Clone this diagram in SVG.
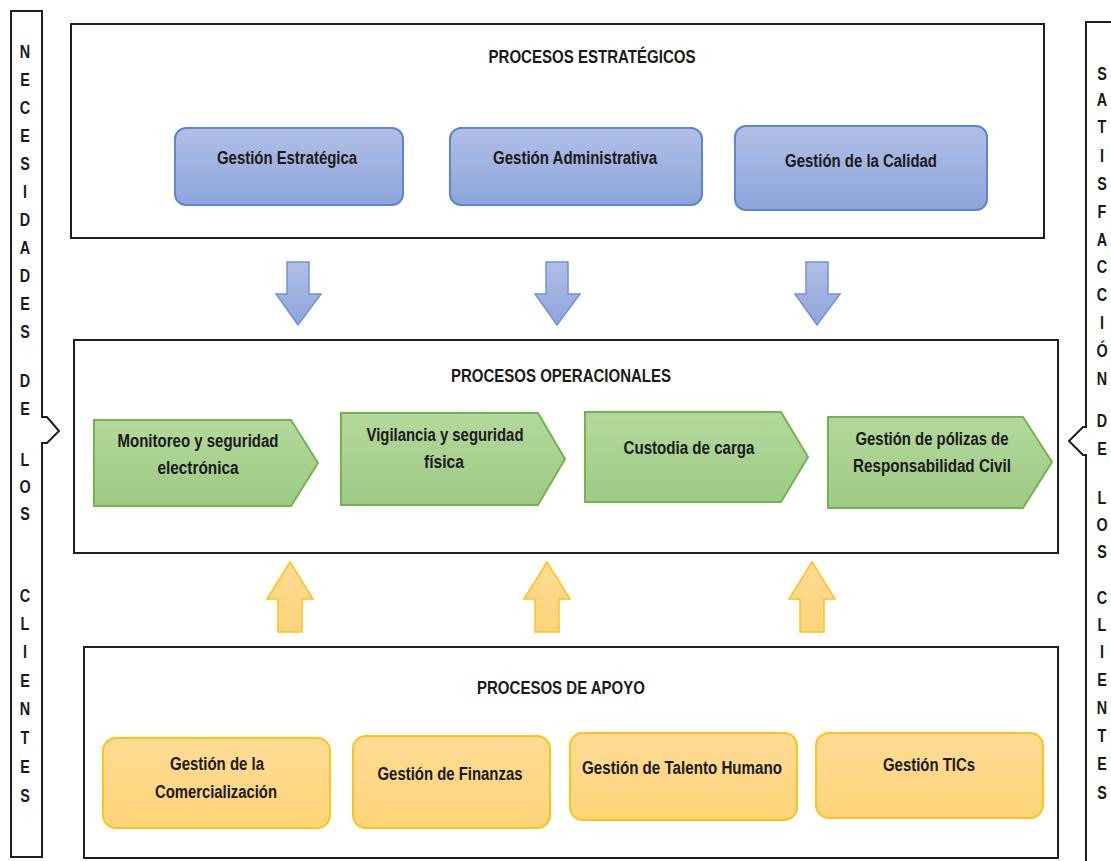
<svg xmlns="http://www.w3.org/2000/svg" width="1111" height="861" viewBox="0 0 1111 861">
  <defs>
    <linearGradient id="gBlue" x1="0" y1="0" x2="0" y2="1">
      <stop offset="0" stop-color="#b1bfe6"/>
      <stop offset="1" stop-color="#8da5db"/>
    </linearGradient>
    <linearGradient id="gGreen" x1="0" y1="0" x2="0" y2="1">
      <stop offset="0" stop-color="#b4d89c"/>
      <stop offset="1" stop-color="#9dca84"/>
    </linearGradient>
    <linearGradient id="gYellow" x1="0" y1="0" x2="0" y2="1">
      <stop offset="0" stop-color="#ffdb95"/>
      <stop offset="1" stop-color="#ffd479"/>
    </linearGradient>
  </defs>
  <style>
    text { font-family: "Liberation Sans", Arial, sans-serif; font-weight: bold; font-size: 18px; fill: #1a1a1a; text-anchor: middle; }
    .frame { fill: #ffffff; stroke: #1e1e1e; stroke-width: 2; }
    .side { fill: none; stroke: #1e1e1e; stroke-width: 2; stroke-linejoin: miter; }
    .blue { fill: url(#gBlue); stroke: #5b86d1; stroke-width: 2; }
    .green { fill: url(#gGreen); stroke: #74b44e; stroke-width: 2; }
    .yellow { fill: url(#gYellow); stroke: #ffc21a; stroke-width: 2; }
    .arrowB { fill: url(#gBlue); stroke: #6f92d8; stroke-width: 1.5; }
    .arrowY { fill: url(#gYellow); stroke: #ffc21a; stroke-width: 1.5; }
  </style>
  <rect width="1111" height="861" fill="#ffffff"/>

  <!-- left side bar: customer needs -->
  <g id="necesidades">
    <path class="side" d="M11,11 H42 V417 H47 L59,431 L47,443 H42 V857 H11 Z"/>
    <g transform="translate(25,0) scale(0.8,1)">
      <text x="0" y="58">N</text>
      <text x="0" y="86">E</text>
      <text x="0" y="114">C</text>
      <text x="0" y="142">E</text>
      <text x="0" y="170">S</text>
      <text x="0" y="198">I</text>
      <text x="0" y="226">D</text>
      <text x="0" y="254">A</text>
      <text x="0" y="282">D</text>
      <text x="0" y="310">E</text>
      <text x="0" y="338">S</text>
      <text x="0" y="387">D</text>
      <text x="0" y="415">E</text>
      <text x="0" y="466">L</text>
      <text x="0" y="493">O</text>
      <text x="0" y="520">S</text>
      <text x="0" y="602">C</text>
      <text x="0" y="630">L</text>
      <text x="0" y="658">I</text>
      <text x="0" y="687">E</text>
      <text x="0" y="715">N</text>
      <text x="0" y="744">T</text>
      <text x="0" y="773">E</text>
      <text x="0" y="802">S</text>
    </g>
  </g>

  <!-- right side bar: customer satisfaction -->
  <g id="satisfaccion">
    <path class="side" d="M1115,22 H1086 V427 H1083 L1069,441 L1083,455 H1086 V866"/>
    <g transform="translate(1102,0) scale(0.8,1)">
      <text x="0" y="80">S</text>
      <text x="0" y="106">A</text>
      <text x="0" y="133">T</text>
      <text x="0" y="162">I</text>
      <text x="0" y="190">S</text>
      <text x="0" y="218">F</text>
      <text x="0" y="246">A</text>
      <text x="0" y="273">C</text>
      <text x="0" y="301">C</text>
      <text x="0" y="329">I</text>
      <text x="0" y="357">Ó</text>
      <text x="0" y="385">N</text>
      <text x="0" y="427">D</text>
      <text x="0" y="455">E</text>
      <text x="0" y="504">L</text>
      <text x="0" y="531">O</text>
      <text x="0" y="558">S</text>
      <text x="0" y="604">C</text>
      <text x="0" y="631">L</text>
      <text x="0" y="658">I</text>
      <text x="0" y="686">E</text>
      <text x="0" y="714">N</text>
      <text x="0" y="742">T</text>
      <text x="0" y="770">E</text>
      <text x="0" y="799">S</text>
    </g>
  </g>

  <!-- strategic processes -->
  <g id="estrategicos">
    <rect class="frame" x="71" y="24" width="973" height="214"/>
    <text x="592" y="63" textLength="207" lengthAdjust="spacingAndGlyphs">PROCESOS ESTRATÉGICOS</text>
  </g>
  <g id="gestion-estrategica">
    <rect class="blue" x="175" y="128" width="228" height="77" rx="11"/>
    <text x="287" y="164" textLength="140" lengthAdjust="spacingAndGlyphs">Gestión Estratégica</text>
  </g>
  <g id="gestion-administrativa">
    <rect class="blue" x="450" y="128" width="252" height="77" rx="11"/>
    <text x="575" y="164" textLength="164" lengthAdjust="spacingAndGlyphs">Gestión Administrativa</text>
  </g>
  <g id="gestion-calidad">
    <rect class="blue" x="735" y="126" width="252" height="84" rx="11"/>
    <text x="861" y="167" textLength="152" lengthAdjust="spacingAndGlyphs">Gestión de la Calidad</text>
  </g>

  <!-- operational processes -->
  <g id="operacionales">
    <rect class="frame" x="74" y="340" width="984" height="213"/>
    <text x="561" y="382" textLength="220" lengthAdjust="spacingAndGlyphs">PROCESOS OPERACIONALES</text>
  </g>
  <g id="monitoreo">
    <path class="green" d="M94,420 H291 L318,463 L291,506 H94 Z"/>
    <text x="198" y="447" textLength="161" lengthAdjust="spacingAndGlyphs">Monitoreo y seguridad</text>
    <text x="198" y="474" textLength="81" lengthAdjust="spacingAndGlyphs">electrónica</text>
  </g>
  <g id="vigilancia">
    <path class="green" d="M341,413 H538 L565,459 L538,505 H341 Z"/>
    <text x="445" y="441" textLength="157" lengthAdjust="spacingAndGlyphs">Vigilancia y seguridad</text>
    <text x="444" y="468" textLength="40" lengthAdjust="spacingAndGlyphs">física</text>
  </g>
  <g id="custodia">
    <path class="green" d="M585,412 H781 L808,457 L781,502 H585 Z"/>
    <text x="689" y="454" textLength="131" lengthAdjust="spacingAndGlyphs">Custodia de carga</text>
  </g>
  <g id="polizas">
    <path class="green" d="M828,417 H1023 L1052,462 L1023,508 H828 Z"/>
    <text x="932" y="445" textLength="153" lengthAdjust="spacingAndGlyphs">Gestión de pólizas de</text>
    <text x="932" y="472" textLength="158" lengthAdjust="spacingAndGlyphs">Responsabilidad Civil</text>
  </g>

  <!-- support processes -->
  <g id="apoyo">
    <rect class="frame" x="84" y="647" width="974" height="211"/>
    <text x="561" y="694" textLength="168" lengthAdjust="spacingAndGlyphs">PROCESOS DE APOYO</text>
  </g>
  <g id="comercializacion">
    <rect class="yellow" x="103" y="738" width="227" height="90" rx="13"/>
    <text x="217" y="770" textLength="94" lengthAdjust="spacingAndGlyphs">Gestión de la</text>
    <text x="216" y="798" textLength="122" lengthAdjust="spacingAndGlyphs">Comercialización</text>
  </g>
  <g id="finanzas">
    <rect class="yellow" x="353" y="736" width="197" height="92" rx="13"/>
    <text x="450" y="780" textLength="145" lengthAdjust="spacingAndGlyphs">Gestión de Finanzas</text>
  </g>
  <g id="talento-humano">
    <rect class="yellow" x="570" y="733" width="227" height="87" rx="13"/>
    <text x="682" y="774" textLength="200" lengthAdjust="spacingAndGlyphs">Gestión de Talento Humano</text>
  </g>
  <g id="tics">
    <rect class="yellow" x="816" y="733" width="227" height="85" rx="13"/>
    <text x="929" y="771" textLength="92" lengthAdjust="spacingAndGlyphs">Gestión TICs</text>
  </g>

  <!-- block arrows between the process layers -->
  <g id="conectores">
    <path class="arrowB" d="M287,262 H309 V294 H321 L298,325 L276,294 H287 Z"/>
    <path class="arrowB" d="M546,262 H568 V294 H580 L557,325 L535,294 H546 Z"/>
    <path class="arrowB" d="M806,262 H828 V294 H840 L817,325 L795,294 H806 Z"/>
    <path class="arrowY" d="M278,632 H302 V599 H313 L290,562 L267,599 H278 Z"/>
    <path class="arrowY" d="M535,632 H559 V599 H570 L547,562 L524,599 H535 Z"/>
    <path class="arrowY" d="M800,632 H824 V599 H835 L812,562 L789,599 H800 Z"/>
  </g>
</svg>
